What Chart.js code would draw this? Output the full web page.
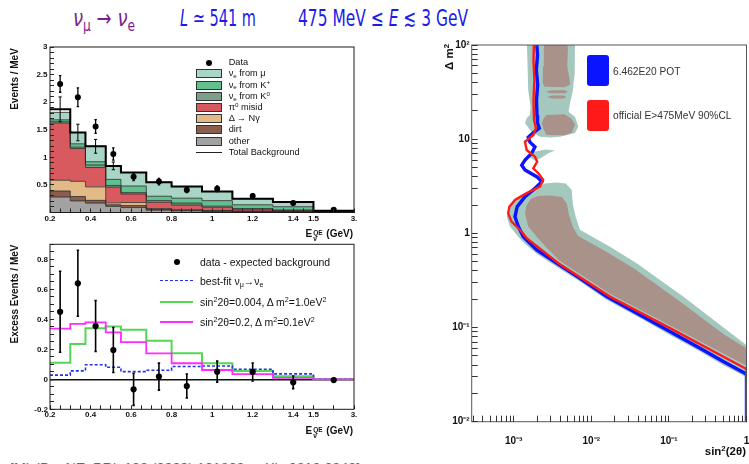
<!DOCTYPE html>
<html><head><meta charset="utf-8">
<title>MiniBooNE nu_mu to nu_e</title>
<script src="https://cdn.jsdelivr.net/npm/chart.js@4.4.1/dist/chart.umd.min.js"></script>
<style>
html,body{margin:0;padding:0;background:#fff}
body{width:749px;height:464px;overflow:hidden;position:relative;font-family:"Liberation Sans",Arial,Helvetica,sans-serif;color:#111}
canvas{position:absolute}
.t{position:absolute;white-space:nowrap;line-height:1}
.hdr{font-family:"DejaVu Sans",sans-serif;font-size:23px;top:7px;transform-origin:0 0}
.lg{position:absolute;white-space:nowrap;line-height:1}
.box{position:absolute;width:26px;height:9px;border:1px solid #333;box-sizing:border-box}
sub,sup{font-size:68%;line-height:0;position:relative;vertical-align:baseline}
sup{top:-0.5em} sub{top:0.3em}
.rot{position:absolute;transform:translate(-50%,-50%) rotate(-90deg);white-space:nowrap;font-weight:bold;line-height:1}
.ss{display:inline-block;vertical-align:-4px;font-size:6.5px;line-height:6.5px;margin:0 1px}
.ss span{display:block}
.dot{position:absolute;width:6px;height:6px;border-radius:50%;background:#000}
.ln{position:absolute;width:33px;height:0}
.rbox{position:absolute;width:22px;height:31px;border-radius:3px}
</style></head>
<body>
<div class="t hdr" id="h1" style="left:73px;color:#7e1f8e"><i>ν</i><sub>μ</sub> → <i>ν</i><sub>e</sub></div>
<div class="t hdr" id="h2" style="left:180px;color:#1c1ce6"><i>L</i> ≃ 541 m</div>
<div class="t hdr" id="h3" style="left:298px;color:#1c1ce6">475 MeV ≤ <i>E</i> ≲ 3 GeV</div>

<canvas id="c1" width="370" height="190" style="left:0;top:40px"></canvas>
<canvas id="c2" width="370" height="192" style="left:0;top:238px"></canvas>
<canvas id="c3" width="369" height="434" style="left:380px;top:30px"></canvas>

<!-- axis titles -->
<div class="rot" style="left:15px;top:79px;font-size:10px">Events / MeV</div>
<div class="rot" style="left:15px;top:294px;font-size:10px">Excess Events / MeV</div>
<div class="t" style="right:396px;top:229px;font-weight:bold;font-size:10px">E<span class="ss"><span>QE</span><span>ν</span></span> (GeV)</div>
<div class="t" style="right:396px;top:426px;font-weight:bold;font-size:10px">E<span class="ss"><span>QE</span><span>ν</span></span> (GeV)</div>
<div class="rot" style="left:450px;top:57px;font-size:11.5px">Δ m<sup>2</sup></div>
<div class="t" style="right:3px;top:446px;font-weight:bold;font-size:11.5px">sin<sup>2</sup>(2θ)</div>

<!-- top-left legend -->
<div id="leg1"></div>
<!-- bottom-left legend -->
<div class="dot" style="left:173.7px;top:258.7px"></div>
<div class="lg" style="left:200px;top:256.6px;font-size:10.5px">data - expected background</div>
<div class="ln" style="left:160px;top:280px;border-top:1.6px dashed #2233ee"></div>
<div class="lg" style="left:200px;top:275.6px;font-size:10.5px">best-fit ν<sub>μ</sub>→ν<sub>e</sub></div>
<div class="ln" style="left:160px;top:300.7px;border-top:2px solid #55d655"></div>
<div class="lg" style="left:200px;top:296.6px;font-size:10.5px">sin<sup>2</sup>2θ=0.004, Δ m<sup>2</sup>=1.0eV<sup>2</sup></div>
<div class="ln" style="left:160px;top:320.7px;border-top:2px solid #ff2bff"></div>
<div class="lg" style="left:200px;top:316.6px;font-size:10.5px">sin<sup>2</sup>2θ=0.2, Δ m<sup>2</sup>=0.1eV<sup>2</sup></div>
<!-- right legend -->
<div class="rbox" style="left:587px;top:55px;background:#0a14ff"></div>
<div class="lg" style="left:613px;top:66.6px;font-size:10.2px;color:#333">6.462E20 POT</div>
<div class="rbox" style="left:587px;top:100px;background:#ff1a1a"></div>
<div class="lg" style="left:613px;top:111px;font-size:10.2px;color:#333">official E&gt;475MeV 90%CL</div>

<div class="t" id="foot" style="left:10px;top:461px;font-size:13px;color:#2f8f2f">[MiniBooNE, PRL 102 (2009) 101802, arXiv:0812.2243]</div>

<script>
// ================= DATA =================
// energy bins (GeV) of both left panels
const binEdges   = [0.2, 0.3, 0.375, 0.475, 0.55, 0.675, 0.8, 0.95, 1.1, 1.3, 1.5, 3.0];
const binCenters = [0.25, 0.3375, 0.425, 0.5125, 0.6125, 0.7375, 0.875, 1.025, 1.2, 1.4, 2.25];
const xTickValues = [0.2, 0.4, 0.6, 0.8, 1.0, 1.2, 1.4, 1.5, 3.0];
const xTickLabels = ['0.2', '0.4', '0.6', '0.8', '1', '1.2', '1.4', '1.5', '3.'];

// top panel: background components (events / MeV)
const bkgOther = [0.28, 0.21, 0.17, 0.11, 0.09, 0.04, 0.03, 0.02, 0.015, 0.01, 0.003];
const bkgDirt  = [0.11, 0.08, 0.05, 0.03, 0.035, 0.015, 0.01, 0.01, 0.005, 0.003, 0.001];
const bkgDelta = [0.195, 0.275, 0.245, 0.035, 0.055, 0.015, 0.01, 0.005, 0.005, 0.003, 0.001];
const bkgPi0   = [1.035, 0.595, 0.35, 0.285, 0.155, 0.115, 0.085, 0.06, 0.033, 0.019, 0.005];
const bkgNueK0 = [0.025, 0.025, 0.045, 0.03, 0.025, 0.03, 0.035, 0.02, 0.012, 0.01, 0.002];
const bkgNueKp = [0.035, 0.06, 0.06, 0.11, 0.12, 0.08, 0.09, 0.10, 0.07, 0.06, 0.008];
const bkgNueMu = [0.135, 0.205, 0.28, 0.245, 0.245, 0.255, 0.21, 0.165, 0.11, 0.085, 0.01];
const bkgTotal    = [1.87, 1.45, 1.20, 0.845, 0.725, 0.55, 0.47, 0.38, 0.25, 0.19, 0.03];
const bkgTotalErr = [0.225, 0.15, 0.125, 0.07, 0.06, 0.05, 0.04, 0.035, 0.025, 0.02, 0.005];
const dataRate = [2.33, 2.09, 1.56, 1.06, 0.65, 0.56, 0.41, 0.43, 0.30, 0.17, 0.05];
const dataErr  = [0.15, 0.17, 0.125, 0.11, 0.07, 0.06, 0.05, 0.05, 0.04, 0.03, 0.02];

// bottom panel: excess (events / MeV)
const excess    = [0.45, 0.64, 0.355, 0.195, -0.067, 0.018, -0.045, 0.051, 0.049, -0.02, -0.005];
const excessErr = [0.27, 0.22, 0.17, 0.15, 0.107, 0.09, 0.08, 0.07, 0.06, 0.042, 0.01];
const bestFit   = [0.028, 0.056, 0.097, 0.08, 0.051, 0.06, 0.085, 0.089, 0.067, 0.036, 0.0];
const modelDm1  = [0.11, 0.235, 0.34, 0.352, 0.33, 0.257, 0.173, 0.107, 0.055, 0.02, 0.0];
const modelDm01 = [0.338, 0.37, 0.379, 0.313, 0.248, 0.173, 0.107, 0.062, 0.034, 0.009, 0.0];

// right panel: [sin^2(2theta), dm^2] limit curves
const limitPOT = [[0.00197,113],[0.00203,78],[0.00196,54],[0.00204,38],[0.00197,26],[0.00200,18],[0.00203,14.9],[0.00214,13.1],[0.00177,11.6],[0.00154,10.5],[0.00162,9.3],[0.00188,8.3],[0.00171,7.1],[0.00140,6.0],[0.00127,5.3],[0.00140,4.7],[0.00198,4.0],[0.00230,3.54],[0.00188,3.0],[0.00140,2.45],[0.00111,1.92],[0.00104,1.50],[0.00115,1.18],[0.00133,0.92],[0.00198,0.667],[0.00358,0.482],[0.00715,0.333],[0.0158,0.213],[0.0425,0.136],[0.103,0.0906],[0.252,0.0603],[0.502,0.0435],[0.955,0.0327],[1.0,0.032],[1.0,0.009]];
const limitOfficial = [[0.00183,113],[0.00180,69],[0.00185,42.5],[0.00180,26.1],[0.00183,16],[0.00194,13.1],[0.00179,11.1],[0.00140,9.4],[0.00147,7.67],[0.00188,6.52],[0.00201,5.77],[0.00179,4.91],[0.00208,4.35],[0.00240,3.69],[0.00218,3.13],[0.00147,2.67],[0.00104,2.26],[0.00088,1.92],[0.00085,1.63],[0.00094,1.33],[0.00127,1.04],[0.00147,0.887],[0.00376,0.482],[0.0174,0.213],[0.114,0.0944],[0.955,0.037],[1.0,0.0365],[1.0,0.009]];
// allowed regions, each as two boundary chains from its leftmost to its rightmost point
const outerTopA  = [[0.0014,14.8],[0.00147,16.7],[0.00162,18.1],[0.00165,22.1],[0.00154,33],[0.00152,50],[0.00147,130],[0.00617,130],[0.00612,50],[0.0058,33],[0.00532,24],[0.0051,19.6],[0.00617,17.3],[0.00679,13.6]];
const outerTopB  = [[0.0014,14.8],[0.0017,12.0],[0.00218,10.6],[0.0030,10.4],[0.00395,10.6],[0.0062,11.6],[0.00679,13.6]];
const outerIslA  = [[0.0016,6.5],[0.0019,7.4],[0.0026,7.75],[0.0034,7.6]];
const outerIslB  = [[0.0016,6.5],[0.0019,5.9],[0.0023,6.4],[0.0028,7.1],[0.0034,7.6]];
const outerLowA  = [[0.000813,1.50],[0.000896,1.92],[0.001146,2.45],[0.00162,2.82],[0.00206,3.15],[0.00253,3.39],[0.00351,3.47],[0.00472,3.39],[0.00559,2.89],[0.00581,2.00],[0.00635,1.46],[0.00715,1.09],[0.0174,0.722],[0.0385,0.482],[0.0768,0.320],[0.153,0.213],[0.292,0.142],[0.556,0.0944],[1.08,0.062],[1.1,0.045]];
const outerLowB  = [[0.000813,1.50],[0.000896,1.18],[0.001146,0.923],[0.0014,0.771],[0.002,0.604],[0.00361,0.440],[0.00715,0.308],[0.0159,0.196],[0.0424,0.126],[0.103,0.0834],[0.252,0.0557],[0.498,0.0401],[1.05,0.029],[1.1,0.045]];
const innerColA  = [[0.00235,40],[0.0024,60],[0.00245,90],[0.0025,130],[0.0048,130],[0.0050,90],[0.0049,60],[0.0052,45],[0.0054,38]];
const innerColB  = [[0.00235,40],[0.0025,36],[0.0045,35.5],[0.0054,38]];
const innerS1A = [[0.0026,31.9],[0.003,33.1],[0.0046,33.1],[0.0050,31.9]];
const innerS1B = [[0.0026,31.9],[0.003,30.7],[0.0046,30.7],[0.0050,31.9]];
const innerS2A = [[0.0027,28.1],[0.0031,29.1],[0.0044,29.1],[0.0048,28.1]];
const innerS2B = [[0.0027,28.1],[0.0031,27.1],[0.0044,27.1],[0.0048,28.1]];
const innerBlobA = [[0.0023,14.8],[0.00245,16.7],[0.00265,18.1],[0.0045,18.4],[0.0055,16.7],[0.00617,14.3]];
const innerBlobB = [[0.0023,14.8],[0.00245,12.5],[0.00266,11.1],[0.0045,11.0],[0.0056,11.7],[0.00617,14.3]];
const innerLowA  = [[0.0014,1.63],[0.00147,2.0],[0.00167,2.32],[0.00206,2.49],[0.00294,2.52],[0.00419,2.43],[0.00486,2.05],[0.00516,1.57],[0.00581,1.17],[0.00675,0.938],[0.0159,0.635],[0.0355,0.424],[0.0703,0.283],[0.139,0.189],[0.267,0.126],[0.513,0.0845],[1.08,0.058],[1.1,0.048]];
const innerLowB  = [[0.0014,1.63],[0.00154,1.18],[0.00198,0.923],[0.00253,0.734],[0.00395,0.51],[0.0174,0.229],[0.113,0.101],[1.0,0.0393],[1.05,0.039],[1.1,0.048]];
const sinDecades = [0.001, 0.01, 0.1, 1];
const sinDecadeLabels = ['10⁻³', '10⁻²', '10⁻¹', '1'];
const dmDecades = [0.01, 0.1, 1, 10, 100];
const dmDecadeLabels = ['10⁻²', '10⁻¹', '1', '10', '10²'];

// ================= STYLE =================
const colMu = '#a8d5c5', colKp = '#62c08e', colK0 = '#7b9f88', colPi0 = '#d85a5e',
      colDelta = '#e3b986', colDirt = '#8b5d4c', colOther = '#a2a2a2';
const colOuter = '#a5c8be', colInner = '#a8928a';

Chart.defaults.font.family = '"Liberation Sans", Arial, Helvetica, sans-serif';
Chart.defaults.color = '#111';
Chart.defaults.animation = false;

// the last bin (1.5-3 GeV) is drawn compressed on the original axis
const ax = e => e <= 1.5 ? e : 1.5 + (e - 1.5) * 0.2 / 1.5;
const stepPts = vals => binEdges.map((e, i) => ({x: ax(e), y: vals[Math.min(i, vals.length - 1)]}));
const pts = (xs, ys) => xs.map((x, i) => ({x: ax(x), y: ys[i]}));
const xy = arr => arr.map(([x, y]) => ({x, y}));
function errorBars(xs, ys, es, cap) {
  const out = [];
  xs.forEach((x, i) => {
    if (es[i] == null) return;
    const X = ax(x), lo = ys[i] - es[i], hi = ys[i] + es[i];
    out.push({x: X, y: lo}, {x: X, y: hi}, {x: X, y: null});
    if (cap) out.push({x: X - cap, y: lo}, {x: X + cap, y: lo}, {x: X, y: null},
                      {x: X - cap, y: hi}, {x: X + cap, y: hi}, {x: X, y: null});
  });
  return out;
}
const frame = {id: 'frame', afterDatasetsDraw(c, a, o) {
  const {ctx, chartArea: r} = c; ctx.save(); ctx.strokeStyle = o.color || '#1a1a1a'; ctx.lineWidth = 1;
  ctx.strokeRect(r.left, r.top, r.right - r.left, r.bottom - r.top); ctx.restore(); }};

// fixed axis box size, and no extra label padding added to the chart area
const fixBox = size => s => {
  if (s.isHorizontal()) s.height = size; else s.width = size;
  s.paddingLeft = s.paddingRight = s.paddingTop = s.paddingBottom = 0;
};
const range = (a, b, s) => { const r = []; for (let v = a; v <= b + 1e-9; v += s) r.push(Math.round(v * 1000) / 1000); return r; };
const labelLookup = (vals, labels, f) => v => { const i = vals.findIndex(m => Math.abs(f(m) - v) < 1e-6); return i >= 0 ? labels[i] : ''; };
const baseOpts = (extra) => Object.assign({responsive: false, devicePixelRatio: 1, events: [],
  plugins: {legend: {display: false}, tooltip: {enabled: false}, filler: {drawTime: 'beforeDatasetsDraw', propagate: false}}}, extra);
const tickFont = {size: 8, weight: 'bold'};

// x axis shared by both left panels
function energyAxis(h, pad) {
  return {type: 'linear', min: 0.2, max: 1.7,
    afterBuildTicks: s => { s.ticks = range(0.2, 1.5, 0.05).concat([1.6, 1.7]).map(v => ({value: v})); },
    ticks: {autoSkip: false, maxRotation: 0, padding: pad, font: tickFont, color: '#111',
      callback: labelLookup(xTickValues, xTickLabels, ax)},
    grid: {drawOnChartArea: false, tickLength: -4, tickColor: '#222', tickWidth: 1, z: 1},
    border: {display: false},
    afterFit: fixBox(h)};
}

// ================= TOP-LEFT: stacked backgrounds =================
const comps = [
  {label: 'other', vals: bkgOther, color: colOther},
  {label: 'dirt', vals: bkgDirt, color: colDirt},
  {label: 'Δ → Nγ', vals: bkgDelta, color: colDelta},
  {label: 'π⁰ misid', vals: bkgPi0, color: colPi0},
  {label: 'νe from K⁰', vals: bkgNueK0, color: colK0},
  {label: 'νe from K⁺', vals: bkgNueKp, color: colKp},
  {label: 'νe from μ', vals: bkgNueMu, color: colMu}];
let run = bkgOther.map(() => 0);
const stackSets = comps.map((c, k) => {
  run = run.map((v, i) => v + c.vals[i]);
  return {type: 'line', label: c.label, data: stepPts(run), stepped: 'before', fill: k === 0 ? 'origin' : '-1',
    backgroundColor: c.color, borderColor: '#2a2a2a', borderWidth: 0.8, pointRadius: 0, order: 10};
});
new Chart(document.getElementById('c1'), {
  type: 'line',
  data: {datasets: stackSets.concat([
    {label: 'Total Background', data: stepPts(bkgTotal), stepped: 'before', fill: false, borderColor: '#000', borderWidth: 2, pointRadius: 0, order: 5},
    {label: 'bkg error', data: errorBars(binCenters.slice(0, 4), bkgTotal, bkgTotalErr, 0.008), borderColor: '#000', borderWidth: 1, pointRadius: 0, fill: false, order: 4},
    {label: 'data error', data: errorBars(binCenters, dataRate, dataErr, 0.006), borderColor: '#000', borderWidth: 1.3, pointRadius: 0, fill: false, order: 3},
    {label: 'Data', data: pts(binCenters, dataRate), showLine: false, pointRadius: 3, pointBackgroundColor: '#000', pointBorderWidth: 0, order: 2}
  ])},
  options: baseOpts({
    layout: {padding: {top: 7, right: 16, left: 0, bottom: 0}},
    scales: {
      x: energyAxis(17.5, 5),
      y: {type: 'linear', min: 0, max: 3,
        afterBuildTicks: s => { s.ticks = range(0, 3, 0.1).map(v => ({value: v})); },
        ticks: {autoSkip: false, padding: 6.5, font: tickFont, color: '#111',
          callback: v => (v > 0 && Math.abs(v * 2 - Math.round(v * 2)) < 1e-6) ? String(Math.round(v * 10) / 10) : ''},
        grid: {drawOnChartArea: false, tickLength: -4, tickColor: '#222', tickWidth: 1, z: 1},
        border: {display: false},
        afterFit: fixBox(50)}
    }
  }),
  plugins: [frame]
});

// ================= BOTTOM-LEFT: excess =================
new Chart(document.getElementById('c2'), {
  type: 'line',
  data: {datasets: [
    {label: 'best-fit', data: stepPts(bestFit), stepped: 'before', borderColor: '#2233ee', borderDash: [3, 2], borderWidth: 1.6, pointRadius: 0, fill: false, order: 6},
    {label: 'sin²2θ=0.004, Δm²=1.0eV²', data: stepPts(modelDm1), stepped: 'before', borderColor: '#55d655', borderWidth: 2, pointRadius: 0, fill: false, order: 7},
    {label: 'sin²2θ=0.2, Δm²=0.1eV²', data: stepPts(modelDm01), stepped: 'before', borderColor: '#ff2bff', borderWidth: 1.8, pointRadius: 0, fill: false, order: 5},
    {label: 'error', data: errorBars(binCenters, excess, excessErr, 0.006), borderColor: '#000', borderWidth: 1.6, pointRadius: 0, fill: false, order: 3},
    {label: 'data - expected background', data: pts(binCenters, excess), showLine: false, pointRadius: 3.1, pointBackgroundColor: '#000', pointBorderWidth: 0, order: 2}
  ]},
  options: baseOpts({
    layout: {padding: {top: 6.3, right: 16, left: 0, bottom: 0}},
    scales: {
      x: energyAxis(20.7, 4.9),
      y: {type: 'linear', min: -0.2, max: 0.9,
        afterBuildTicks: s => { s.ticks = range(-0.2, 0.9, 0.05).map(v => ({value: v})); },
        ticks: {autoSkip: false, padding: 6, font: tickFont, color: '#111',
          callback: v => { const k = Math.round(v * 10); return (Math.abs(v * 10 - k) < 1e-6 && k % 2 === 0) ? (k === 0 ? '0' : (k / 10).toFixed(1)) : ''; }},
        grid: {drawOnChartArea: true, tickLength: -4, tickColor: '#222', tickWidth: 1,
          color: c => Math.abs(c.tick.value) < 1e-9 ? '#111' : 'rgba(0,0,0,0)',
          lineWidth: c => Math.abs(c.tick.value) < 1e-9 ? 1.5 : 1},
        border: {display: false},
        afterFit: fixBox(50)}
    }
  }),
  plugins: [frame]
});

// ================= RIGHT: exclusion / allowed regions =================
function region(a, b, color, order, label) {
  return [
    {label, data: xy(a), fill: '+1', backgroundColor: color, borderColor: 'transparent', borderWidth: 0, pointRadius: 0, tension: 0, order},
    {label: label + ' edge', data: xy(b), fill: false, borderColor: 'transparent', borderWidth: 0, pointRadius: 0, tension: 0, order}];
}
const logTicks = (lo, hi) => { const t = []; for (let n = -4; n <= 2; n++) for (let k = 1; k <= 9; k++) { const v = Number((k * Math.pow(10, n)).toPrecision(3)); if (v >= lo * 0.999 && v <= hi * 1.001) t.push(v); } return t; };
new Chart(document.getElementById('c3'), {
  type: 'line',
  data: {datasets: [].concat(
    region(outerTopA, outerTopB, colOuter, 30, 'allowed 90% (upper)'),
    region(outerIslA, outerIslB, colOuter, 30, 'allowed 90% (island)'),
    region(outerLowA, outerLowB, colOuter, 30, 'allowed 90% (lower)'),
    region(innerColA, innerColB, colInner, 20, 'allowed 68% (column)'),
    region(innerS1A, innerS1B, colInner, 20, 'allowed 68% (s1)'),
    region(innerS2A, innerS2B, colInner, 20, 'allowed 68% (s2)'),
    region(innerBlobA, innerBlobB, colInner, 20, 'allowed 68% (blob)'),
    region(innerLowA, innerLowB, colInner, 20, 'allowed 68% (lower)'),
    [{label: '6.462E20 POT', data: xy(limitPOT), borderColor: '#0a14ff', borderWidth: 3.4, pointRadius: 0, fill: false, tension: 0, order: 2},
     {label: 'official E>475MeV 90%CL', data: xy(limitOfficial), borderColor: '#ff1a1a', borderWidth: 2.4, pointRadius: 0, fill: false, tension: 0, order: 1}]
  )},
  options: baseOpts({
    layout: {padding: {top: 15, right: 2.5, left: 0, bottom: 0}},
    scales: {
      x: {type: 'logarithmic', min: 2.88e-4, max: 1,
        afterBuildTicks: s => { s.ticks = logTicks(2.88e-4, 1).map(v => ({value: v})); },
        ticks: {autoSkip: false, maxRotation: 0, padding: 20, font: {size: 10, weight: 'bold'}, color: '#111',
          callback: labelLookup(sinDecades, sinDecadeLabels, m => m)},
        grid: {drawOnChartArea: false, tickLength: -6, tickColor: '#333', tickWidth: 1, z: 1},
        border: {display: false},
        afterFit: fixBox(42.3)},
      y: {type: 'logarithmic', min: 0.01, max: 100,
        afterBuildTicks: s => { s.ticks = logTicks(0.01, 100).map(v => ({value: v})); },
        ticks: {autoSkip: false, padding: 8, font: {size: 10, weight: 'bold'}, color: '#111',
          callback: labelLookup(dmDecades, dmDecadeLabels, m => m)},
        grid: {drawOnChartArea: false, tickLength: -6, tickColor: '#333', tickWidth: 1, z: 1},
        border: {display: false},
        afterFit: fixBox(91.7)}
    },
    plugins: {legend: {display: false}, tooltip: {enabled: false}, filler: {drawTime: 'beforeDatasetsDraw', propagate: false}, frame: {color: '#555'}}
  }),
  plugins: [frame]
});

// ================= HTML legend (top-left) =================
const legRows = [
  {html: 'Data', dot: true},
  {html: 'ν<sub>e</sub> from μ', color: colMu},
  {html: 'ν<sub>e</sub> from K<sup>+</sup>', color: colKp},
  {html: 'ν<sub>e</sub> from K<sup>0</sup>', color: colK0},
  {html: 'π<sup>0</sup> misid', color: colPi0},
  {html: 'Δ → Nγ', color: colDelta},
  {html: 'dirt', color: colDirt},
  {html: 'other', color: colOther},
  {html: 'Total Background', line: true}];
const leg1 = document.getElementById('leg1');
legRows.forEach((r, i) => {
  const cy = 62.7 + i * 11.2;
  let sw;
  if (r.dot) sw = `<div class="dot" style="left:206px;top:${cy - 3}px"></div>`;
  else if (r.line) sw = `<div class="ln" style="left:196px;width:26px;top:${cy - 0.75}px;border-top:1.5px solid #222"></div>`;
  else sw = `<div class="box" style="left:196px;top:${cy - 4.5}px;background:${r.color}"></div>`;
  leg1.insertAdjacentHTML('beforeend', sw + `<div class="lg" style="left:228.7px;top:${cy - 4.5}px;font-size:9.2px">${r.html}</div>`);
});

// fit the condensed title / footer text to their widths
function fitW(id, w) { const el = document.getElementById(id); const r = el.getBoundingClientRect().width; el.style.transformOrigin = '0 0'; el.style.transform = `scaleX(${w / r})`; }
fitW('h1', 62); fitW('h2', 76); fitW('h3', 170); fitW('foot', 350);
</script>
</body></html>
